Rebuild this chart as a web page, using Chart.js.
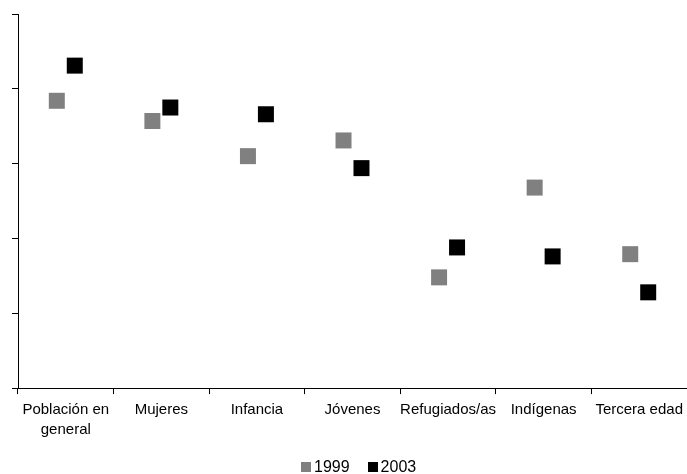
<!DOCTYPE html>
<html>
<head>
<meta charset="utf-8">
<script src="https://cdn.jsdelivr.net/npm/chart.js@4.4.1/dist/chart.umd.min.js"></script>
<style>
    html, body { margin: 0; padding: 0; background: #fff; }
    #wrap { position: relative; width: 687px; height: 474px; }
    #legend {
        position: absolute; left: 301px; top: 459px;
        display: flex; align-items: center;
        font: 16px "Liberation Sans", Arial, sans-serif; line-height: 16px; color: #000;
    }
    #legend .item { display: flex; align-items: center; margin-right: 18px; }
    #legend .box { width: 10px; height: 10px; margin-right: 3px; }
</style>
</head>
<body>
<div id="wrap">
    <canvas id="chart" width="687" height="474"></canvas>
    <div id="legend"></div>
</div>
<script>
// Categories and values (0-5 scale, axis labels hidden)
const categories = [['Población en', 'general'], 'Mujeres', 'Infancia', 'Jóvenes', 'Refugiados/as', 'Indígenas', 'Tercera edad'];
const values1999 = [3.84, 3.57, 3.10, 3.31, 1.48, 2.68, 1.79];
const values2003 = [4.31, 3.75, 3.66, 2.94, 1.88, 1.76, 1.28];
const seriesNames = ['1999', '2003'];
const seriesColors = ['#808080', '#000000'];

// each series is shifted a little left/right inside its category
const shift = 0.094;

function toPoints(values, offset) {
    return values.map((v, i) => ({ x: i + offset, y: v }));
}

const font = { family: '"Liberation Sans", Arial, sans-serif', size: 15 };

const chart = new Chart(document.getElementById('chart'), {
    type: 'line',
    data: {
        labels: categories,
        datasets: [
            { label: seriesNames[0], data: toPoints(values1999, -shift) },
            { label: seriesNames[1], data: toPoints(values2003, shift) }
        ].map((ds, i) => Object.assign(ds, {
            xAxisID: 'xp',
            showLine: false,
            pointStyle: 'rect',
            pointRadius: 11.31,
            pointHoverRadius: 11.31,
            pointBorderWidth: 0,
            backgroundColor: seriesColors[i],
            pointBackgroundColor: seriesColors[i],
            borderColor: seriesColors[i]
        }))
    },
    options: {
        responsive: false,
        animation: false,
        events: [],
        layout: { autoPadding: false, padding: { left: 12, top: 14, right: 0, bottom: 28 } },
        plugins: { legend: { display: false }, tooltip: { enabled: false } },
        scales: {
            x: {
                type: 'category',
                offset: true,
                grid: { offset: true, drawOnChartArea: false, tickLength: 6, color: '#000' },
                border: { color: '#000', width: 1 },
                ticks: {
                    color: '#000',
                    font: Object.assign({ lineHeight: 1.33 }, font),
                    padding: 6,
                    maxRotation: 0,
                    autoSkip: false
                },
                // let the plot run right up to the canvas edge
                afterFit: scale => {
                    scale.paddingLeft = 0;
                    scale.paddingRight = 0;
                }
            },
            xp: {
                type: 'linear',
                display: false,
                min: -0.5,
                max: categories.length - 0.5
            },
            y: {
                min: 0,
                max: 5,
                ticks: { stepSize: 1, display: false },
                grid: { drawOnChartArea: false, tickLength: 6, color: '#000' },
                border: { color: '#000', width: 1 }
            }
        }
    }
});

// Simple HTML legend built from the datasets
const legend = document.getElementById('legend');
chart.data.datasets.forEach(ds => {
    const item = document.createElement('div');
    item.className = 'item';
    item.innerHTML = `<span class="box" style="background:${ds.backgroundColor}"></span><span>${ds.label}</span>`;
    legend.appendChild(item);
});
</script>
</body>
</html>
